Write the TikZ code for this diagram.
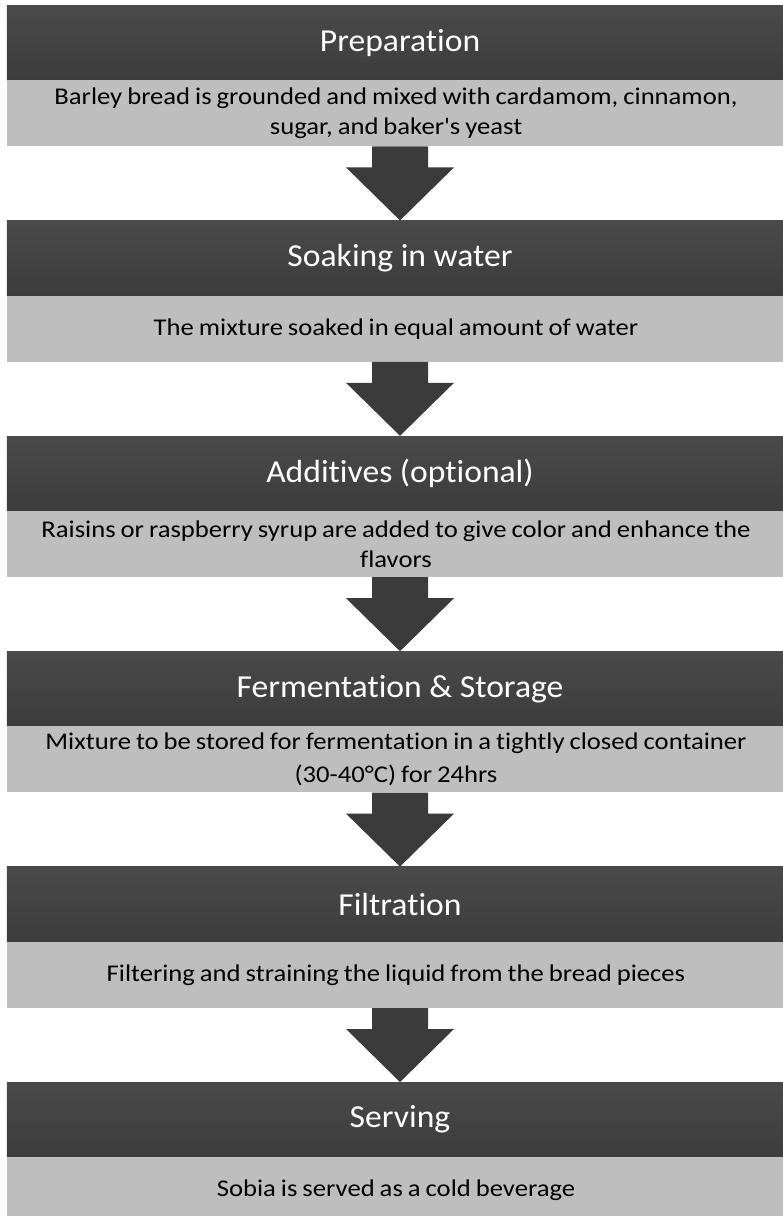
\documentclass[tikz,border=0pt]{standalone}
\usepackage{fontspec}
\setmainfont{Carlito}[Ligatures=NoCommon]
\usetikzlibrary{calc}
\definecolor{hdrtop}{HTML}{4A4A4A}
\definecolor{hdrbot}{HTML}{3C3C3C}
\definecolor{band}{HTML}{BEBEBE}
\definecolor{arr}{HTML}{3B3B3B}
\newcommand{\bodyfnt}{\fontsize{24}{30}\selectfont\spaceskip=4.5pt plus 1pt minus 1pt\relax}
\newcommand{\bodyfntwide}{\fontsize{24}{33}\selectfont\spaceskip=4.5pt plus 1pt minus 1pt\relax}
\begin{document}
\begin{tikzpicture}[x=1pt,y=-1pt,
  hdrbox/.style={top color=hdrtop, bottom color=hdrbot, xscale=1.05, transform shape, minimum width=748.6pt, minimum height=75pt, inner sep=0pt,
    text=white, font=\fontsize{32}{34}\selectfont, anchor=north},
  bandbox/.style={fill=band, xscale=1.11, transform shape, minimum width=700.9pt, minimum height=66pt, inner sep=0pt,
    align=center, text=black, font=\bodyfnt, anchor=north},
  blockarrow/.style={fill=arr}]
\useasboundingbox (0,0) rectangle (783,1216);
\clip (0,0) rectangle (783,1216);
\fill[white] (0,0) rectangle (783,1216);
\node[hdrbox] (h1) at (400,5) {Preparation};
\node[bandbox] (b1) at (396,80) {Barley bread is grounded and mixed with cardamom, cinnamon,\\ sugar, and baker\textquotesingle s yeast};
\node[hdrbox] (h2) at (400,220.4) {Soaking in water};
\node[bandbox] (b2) at (396,295.4) {The mixture soaked in equal amount of water};
\node[hdrbox] (h3) at (400,435.8) {Additives (optional)};
\node[bandbox] (b3) at (396,510.8) {Raisins or raspberry syrup are added to give color and enhance the\\ flavors};
\node[hdrbox] (h4) at (400,651.2) {Fermentation \& Storage};
\node[bandbox, font=\bodyfntwide] (b4) at (396,726.2) {Mixture to be stored for fermentation in a tightly closed container\\ (30-40°C) for 24hrs};
\node[hdrbox] (h5) at (400,866.6) {Filtration};
\node[bandbox] (b5) at (396,941.6) {Filtering and straining the liquid from the bread pieces};
\node[hdrbox] (h6) at (400,1082) {Serving};
\node[bandbox] (b6) at (396,1157) {Sobia is served as a cold beverage};
\foreach \a/\b in {b1/h2,b2/h3,b3/h4,b4/h5,b5/h6}{
  \coordinate (s) at (\a.south -| \b.north);
  \fill[blockarrow] ($(s)+(-28,0)$) -- ($(s)+(28,0)$) -- ($(s)+(28,21)$)
    -- ($(s)+(54,21)$) -- (\b.north) -- ($(s)+(-54,21)$) -- ($(s)+(-28,21)$) -- cycle;
}
\end{tikzpicture}
\end{document}
